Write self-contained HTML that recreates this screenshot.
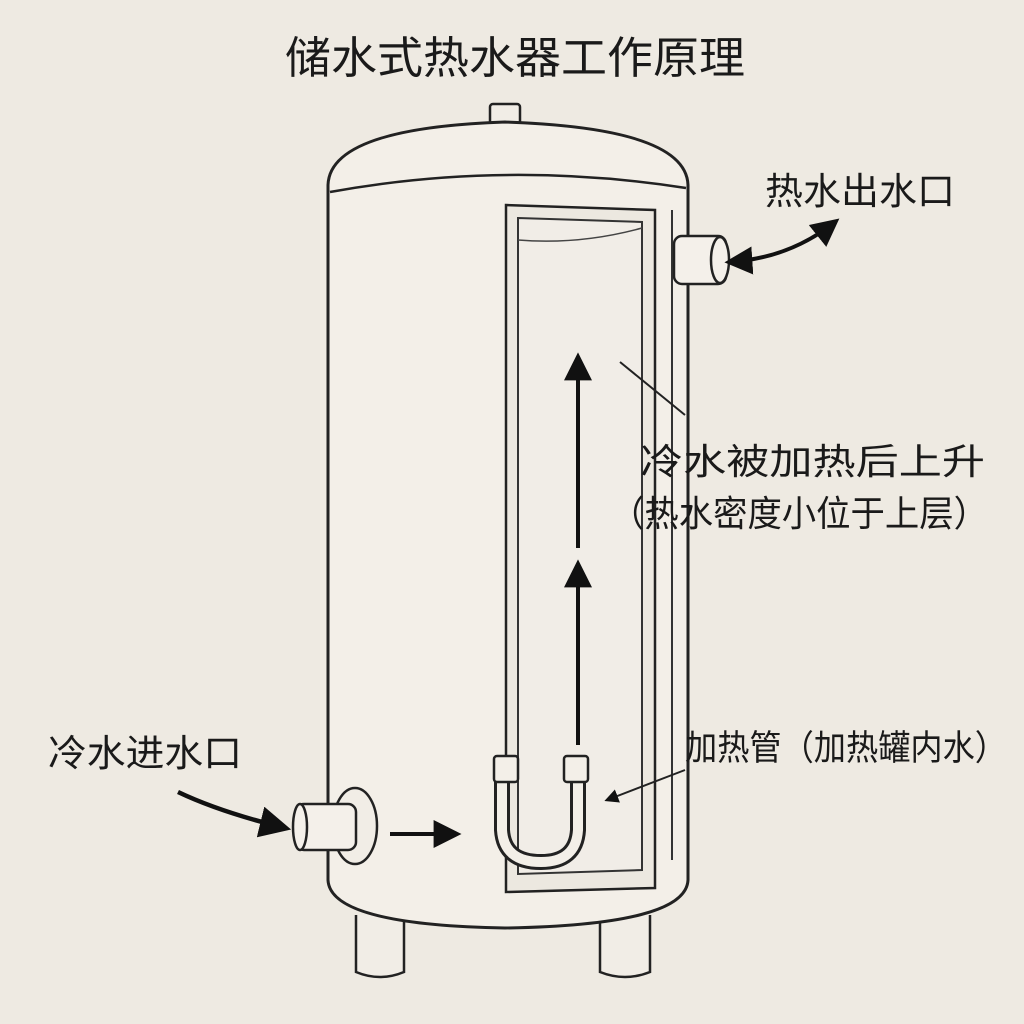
<!DOCTYPE html>
<html><head><meta charset="utf-8"><style>
html,body{margin:0;padding:0;background:#eeeae2;}
svg{display:block}
text{font-family:"Liberation Sans","Noto Sans CJK SC",sans-serif;fill:#1a1a1a}
</style></head><body>
<svg width="1024" height="1024" viewBox="0 0 1024 1024" xmlns="http://www.w3.org/2000/svg">
<defs>
<marker id="ah" viewBox="0 0 10 10" refX="8" refY="5" markerWidth="7" markerHeight="7" orient="auto-start-reverse"><path d="M0,0 L10,5 L0,10 Z" fill="#111"/></marker>
</defs>
<rect width="1024" height="1024" fill="#eeeae2"/>
<text x="515" y="73" font-size="44" text-anchor="middle" textLength="460" lengthAdjust="spacingAndGlyphs">储水式热水器工作原理</text>
<rect x="490" y="104" width="30" height="20" rx="3" fill="#f1ede6" stroke="#222" stroke-width="2.5"/>
<path d="M356,915 L356,972 Q380,982 404,972 L404,915" fill="#f1ede6" stroke="#222" stroke-width="2.5"/>
<path d="M600,915 L600,972 Q625,982 650,972 L650,915" fill="#f1ede6" stroke="#222" stroke-width="2.5"/>
<path d="M328,185 Q330,128 505,122 Q686,128 688,185 L688,880 Q686,925 505,928 Q330,925 328,880 Z" fill="#f3efe8" stroke="#222" stroke-width="3"/>
<path d="M330,192 Q505,160 686,188" fill="none" stroke="#222" stroke-width="2.5"/>
<path d="M506,205 L655,210 L655,888 L506,892 Z" fill="#ece8e0" stroke="#222" stroke-width="2.5"/>
<path d="M518,218 L642,222 L642,870 L518,874 Z" fill="#f1ede7" stroke="#333" stroke-width="2"/>
<path d="M518,240 Q580,245 642,228" fill="none" stroke="#444" stroke-width="1.5"/>
<line x1="672" y1="210" x2="672" y2="860" stroke="#333" stroke-width="2"/>
<rect x="674" y="236" width="52" height="48" rx="8" fill="#f4f0ea" stroke="#222" stroke-width="2.5"/>
<ellipse cx="720" cy="260" rx="9" ry="23" fill="#f4f0ea" stroke="#222" stroke-width="2.5"/>
<ellipse cx="355" cy="826" rx="22" ry="38" fill="#f1ede6" stroke="#222" stroke-width="2.5"/>
<rect x="296" y="804" width="60" height="46" rx="8" fill="#f4f0ea" stroke="#222" stroke-width="2.5"/>
<ellipse cx="300" cy="827" rx="7" ry="23" fill="#f4f0ea" stroke="#222" stroke-width="2.5"/>
<path d="M502,775 L502,830 Q504,862 541,862 Q576,862 578,830 L578,775" fill="none" stroke="#222" stroke-width="16"/>
<path d="M502,775 L502,830 Q504,862 541,862 Q576,862 578,830 L578,775" fill="none" stroke="#f3efe8" stroke-width="10"/>
<rect x="494" y="756" width="24" height="26" rx="3" fill="#f3efe8" stroke="#222" stroke-width="2.5"/>
<rect x="564" y="756" width="24" height="26" rx="3" fill="#f3efe8" stroke="#222" stroke-width="2.5"/>
<line x1="578" y1="745" x2="578" y2="565" stroke="#111" stroke-width="4" marker-end="url(#ah)"/>
<line x1="578" y1="548" x2="578" y2="358" stroke="#111" stroke-width="4" marker-end="url(#ah)"/>
<line x1="620" y1="362" x2="685" y2="415" stroke="#222" stroke-width="2"/>
<line x1="685" y1="770" x2="607" y2="800" stroke="#222" stroke-width="2" marker-end="url(#ah)"/>
<path d="M730,262 Q790,258 835,222" fill="none" stroke="#111" stroke-width="4" marker-start="url(#ah)" marker-end="url(#ah)"/>
<path d="M178,792 Q220,812 285,828" fill="none" stroke="#111" stroke-width="4.5" marker-end="url(#ah)"/>
<line x1="390" y1="834" x2="456" y2="834" stroke="#111" stroke-width="4" marker-end="url(#ah)"/>
<text x="765" y="204" font-size="37" textLength="190" lengthAdjust="spacingAndGlyphs">热水出水口</text>
<text x="640" y="474" font-size="36" textLength="345" lengthAdjust="spacingAndGlyphs">冷水被加热后上升</text>
<text x="610" y="526" font-size="36" textLength="378" lengthAdjust="spacingAndGlyphs">（热水密度小位于上层）</text>
<text x="685" y="760" font-size="35" textLength="322" lengthAdjust="spacingAndGlyphs">加热管（加热罐内水）</text>
<text x="48" y="766" font-size="37" textLength="194" lengthAdjust="spacingAndGlyphs">冷水进水口</text>
</svg>
</body></html>
